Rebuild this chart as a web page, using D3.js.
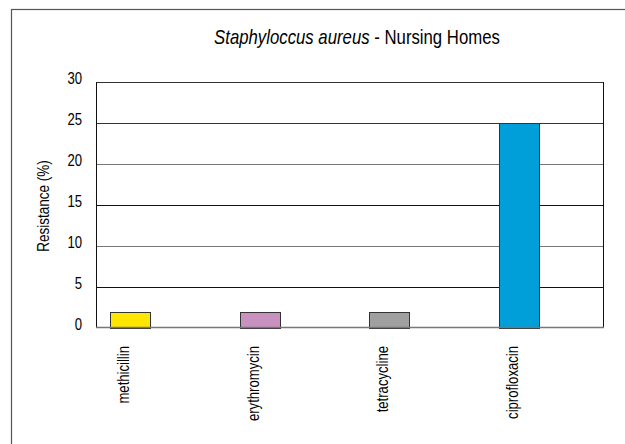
<!DOCTYPE html>
<html>
<head>
<meta charset="utf-8">
<script src="https://cdn.jsdelivr.net/npm/d3@7"></script>
<style>
  html, body { margin: 0; padding: 0; background: #fff; }
  svg { display: block; }
  text { font-family: "Liberation Sans", Arial, sans-serif; fill: #000; }
</style>
</head>
<body>
<svg id="chart" width="625" height="444"></svg>
<script>
const categories = ["methicillin", "erythromycin", "tetracycline", "ciprofloxacin"];
const resistance = [2, 2, 2, 25];
const barColors = ["#FFE600", "#C891C0", "#A0A0A0", "#009FDA"];
const yTicks = [0, 5, 10, 15, 20, 25, 30];
const titleItalic = "Staphyloccus aureus";
const titleRest = " - Nursing Homes";
const yLabel = "Resistance (%)";

const NARROW = 0.82; // emulate Arial Narrow with a horizontal squeeze
const svg = d3.select("#chart");
const plot = { left: 96, right: 604, top: 82, bottom: 328 };

// outer frame (extends beyond the visible canvas on right/bottom)
svg.append("rect")
  .attr("x", 11.5).attr("y", 9.5)
  .attr("width", 700).attr("height", 500)
  .attr("fill", "#fff").attr("stroke", "#555").attr("stroke-width", 1.2);

const y = d3.scaleLinear().domain([0, 30]).range([plot.bottom, plot.top]);
const x = d3.scalePoint().domain(categories).range([130, 519]);
const barW = 40;

// gridlines
const gridColors = { 5: "#111", 10: "#777", 15: "#111", 20: "#777", 25: "#333" };
svg.append("g").selectAll("line")
  .data(yTicks.filter(t => t > 0 && t < 30))
  .join("line")
  .attr("x1", plot.left).attr("x2", plot.right)
  .attr("y1", d => Math.round(y(d)) + 0.5).attr("y2", d => Math.round(y(d)) + 0.5)
  .attr("stroke", d => gridColors[d]).attr("stroke-width", 1);

// plot frame
svg.append("line").attr("x1", plot.left).attr("x2", plot.right)
  .attr("y1", plot.top + 0.5).attr("y2", plot.top + 0.5).attr("stroke", "#333");
svg.append("line").attr("x1", plot.left + 0.5).attr("x2", plot.left + 0.5)
  .attr("y1", plot.top).attr("y2", plot.bottom).attr("stroke", "#111");
svg.append("line").attr("x1", plot.right - 0.5).attr("x2", plot.right - 0.5)
  .attr("y1", plot.top).attr("y2", plot.bottom).attr("stroke", "#111");

// bars
svg.append("g").selectAll("rect")
  .data(categories.map((c, i) => ({ c, v: resistance[i], col: barColors[i] })))
  .join("rect")
  .attr("x", d => Math.round(x(d.c) - barW / 2) + 0.5)
  .attr("y", d => Math.round(y(d.v)) + 0.5)
  .attr("width", barW)
  .attr("height", d => Math.round(y(0)) - Math.round(y(d.v)))
  .attr("fill", d => d.col)
  .attr("stroke", "#333").attr("stroke-width", 1);

// baseline
svg.append("line").attr("x1", plot.left).attr("x2", plot.right)
  .attr("y1", plot.bottom - 0.5).attr("y2", plot.bottom - 0.5)
  .attr("stroke", "#777").attr("stroke-width", 1.5);

// y axis labels
const yAxis = d3.axisLeft(y).tickValues(yTicks).tickSize(0).tickPadding(14);
const gy = svg.append("g").attr("transform", `translate(${plot.left},0)`).call(yAxis);
gy.select(".domain").remove();
gy.selectAll("text")
  .attr("x", 0)
  .attr("transform", `translate(-14,0) scale(${NARROW},1)`)
  .attr("dy", "0.08em")
  .style("font-size", "16px")
  .style("font-family", '"Liberation Sans", Arial, sans-serif')
  .attr("fill", "#000");

// x category labels (rotated)
svg.append("g").selectAll("text")
  .data(categories)
  .join("text")
  .attr("transform", d => `translate(${x(d) - 1},346) rotate(-90) scale(${NARROW},1)`)
  .attr("text-anchor", "end")
  .style("font-size", "16px")
  .text(d => d);

// y axis title
svg.append("text")
  .attr("transform", `translate(49,206) rotate(-90) scale(${NARROW},1)`)
  .attr("text-anchor", "middle")
  .style("font-size", "16.5px")
  .text(yLabel);

// chart title
const title = svg.append("text")
  .attr("transform", `translate(357,44) scale(0.838,1)`)
  .attr("text-anchor", "middle")
  .style("font-size", "20px");
title.append("tspan").style("font-style", "italic").text(titleItalic);
title.append("tspan").text(titleRest);
</script>
</body>
</html>
